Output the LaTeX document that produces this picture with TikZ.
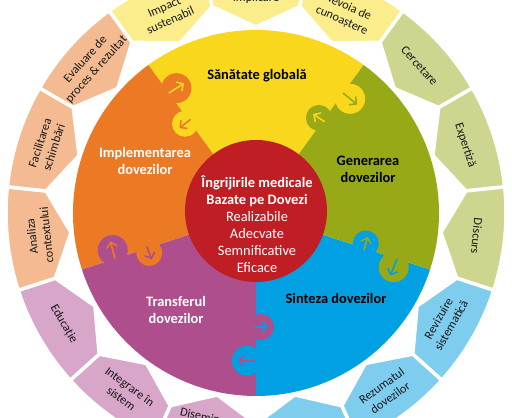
\documentclass[tikz,border=0pt]{standalone}
\usepackage{fontspec}
\setmainfont{Carlito}
\usetikzlibrary{arrows.meta}

\definecolor{sanYel}{RGB}{249,215,28}
\definecolor{sanYelL}{RGB}{251,236,140}
\definecolor{genOlv}{RGB}{151,169,23}
\definecolor{genOlvL}{RGB}{205,213,143}
\definecolor{sinBlu}{RGB}{0,160,226}
\definecolor{sinBluL}{RGB}{126,205,239}
\definecolor{traPur}{RGB}{174,78,141}
\definecolor{traPurL}{RGB}{216,166,200}
\definecolor{impOra}{RGB}{236,121,36}
\definecolor{impOraL}{RGB}{244,187,146}
\definecolor{ebmRed}{RGB}{190,30,36}

\tikzset{
  ringseg/.style={draw=white,line width=2pt,line join=round},
  ringtext/.style={font=\fontsize{7}{8.3}\selectfont,align=center,inner sep=0pt,text=black!90},
  piecetext/.style={font=\bfseries\fontsize{8.2}{9.6}\selectfont,align=center,inner sep=0pt},
  ebmtext/.style={font=\fontsize{8.2}{9.75}\selectfont,align=center,inner sep=0pt,text=white},
  knobarrow/.style={line width=0.9pt,-{Straight Barb[length=2.8pt,width=6pt]}}
}

\begin{document}
\begin{tikzpicture}[x=0.02cm,y=0.02cm]
\useasboundingbox (-256,-205) rectangle (256,213);
\clip (-256,-205) rectangle (256,213);
% outer ring
\filldraw[ringseg,fill=sanYelL] (126:250) arc[start angle=126,end angle=102,radius=250] -- (102:211) -- (114:186) -- (126:211) -- cycle; % Ring.impact
\filldraw[ringseg,fill=sanYelL] (102:250) arc[start angle=102,end angle=78,radius=250] -- (78:211) -- (90:186) -- (102:211) -- cycle; % Ring.implicare
\filldraw[ringseg,fill=sanYelL] (78:250) arc[start angle=78,end angle=54,radius=250] -- (54:211) -- (66:186) -- (78:211) -- cycle; % Ring.nevoia
\filldraw[ringseg,fill=genOlvL] (54:250) arc[start angle=54,end angle=30,radius=250] -- (30:211) -- (42:186) -- (54:211) -- cycle; % Ring.cercetare
\filldraw[ringseg,fill=genOlvL] (30:250) arc[start angle=30,end angle=6,radius=250] -- (6:211) -- (18:186) -- (30:211) -- cycle; % Ring.expertiza
\filldraw[ringseg,fill=genOlvL] (6:250) arc[start angle=6,end angle=-18,radius=250] -- (-18:211) -- (-6:186) -- (6:211) -- cycle; % Ring.discurs
\filldraw[ringseg,fill=sinBluL] (-18:250) arc[start angle=-18,end angle=-42,radius=250] -- (-42:211) -- (-30:186) -- (-18:211) -- cycle; % Ring.revizuire
\filldraw[ringseg,fill=sinBluL] (-42:250) arc[start angle=-42,end angle=-66,radius=250] -- (-66:211) -- (-54:186) -- (-42:211) -- cycle; % Ring.rezumat
\filldraw[ringseg,fill=sinBluL] (-66:250) arc[start angle=-66,end angle=-90,radius=250] -- (-90:211) -- (-78:186) -- (-66:211) -- cycle; % Ring.hidden
\filldraw[ringseg,fill=traPurL] (270:250) arc[start angle=270,end angle=246,radius=250] -- (246:211) -- (258:186) -- (270:211) -- cycle; % Ring.diseminare
\filldraw[ringseg,fill=traPurL] (246:250) arc[start angle=246,end angle=222,radius=250] -- (222:211) -- (234:186) -- (246:211) -- cycle; % Ring.integrare
\filldraw[ringseg,fill=traPurL] (222:250) arc[start angle=222,end angle=198,radius=250] -- (198:211) -- (210:186) -- (222:211) -- cycle; % Ring.educatie
\filldraw[ringseg,fill=impOraL] (198:250) arc[start angle=198,end angle=174,radius=250] -- (174:211) -- (186:186) -- (198:211) -- cycle; % Ring.analiza
\filldraw[ringseg,fill=impOraL] (174:250) arc[start angle=174,end angle=150,radius=250] -- (150:211) -- (162:186) -- (174:211) -- cycle; % Ring.facilitare
\filldraw[ringseg,fill=impOraL] (150:250) arc[start angle=150,end angle=126,radius=250] -- (126:211) -- (138:186) -- (150:211) -- cycle; % Ring.evaluare
\node[ringtext,rotate=24] (impact) at (114:218) {Impact\\sustenabil};
\node[ringtext] (implicare) at (90:215) {Implicare};
\node[ringtext,rotate=-24] (nevoia) at (66:218) {Nevoia de\\cunoaștere};
\node[ringtext,rotate=-48] (cercetare) at (42:220) {Cercetare};
\node[ringtext,rotate=-72] (expertiza) at (18:220) {Expertiză};
\node[ringtext,rotate=-96] (discurs) at (-6:222) {Discurs};
\node[ringtext,rotate=60] (revizuire) at (-30:218) {Revizuire\\sistematică};
\node[ringtext,rotate=36] (rezumat) at (-54:221) {Rezumatul\\dovezilor};
\node[ringtext,rotate=-12] (diseminare) at (256.8:210) {Diseminare};
\node[ringtext,rotate=-36] (integrare) at (234:222) {Integrare în\\sistem};
\node[ringtext,rotate=-60] (educatie) at (210:222) {Educație};
\node[ringtext,rotate=96] (analiza) at (186:218) {Analiza\\contextului};
\node[ringtext,rotate=72] (facilitare) at (162:220) {Facilitarea\\schimbări};
\node[ringtext,rotate=48] (evaluare) at (138:222) {Evaluare de\\proces \& rezultat};
% puzzle pieces
\fill[sanYel] (0,0) -- (54:183) arc[start angle=54,end angle=126,radius=183] -- cycle; % Piece.sanatate
\fill[impOra] (0,0) -- (126:183) arc[start angle=126,end angle=198,radius=183] -- cycle; % Piece.implementare
\fill[traPur] (0,0) -- (198:183) arc[start angle=198,end angle=270,radius=183] -- cycle; % Piece.transfer
\fill[sinBlu] (0,0) -- (270:183) arc[start angle=270,end angle=342,radius=183] -- cycle; % Piece.sinteza
\fill[genOlv] (0,0) -- (-18:183) arc[start angle=-18,end angle=54,radius=183] -- cycle; % Piece.generare
% knobs
\fill[impOra] (122.5:148) circle (15); % Knob.implementare
\draw[knobarrow,sanYel,shift={(122.5:148)}] (212.5:9) -- (32.5:9);
\fill[sanYel] (128.5:114) circle (13); % Knob.sanatate
\draw[knobarrow,impOra,shift={(128.5:114)}] (38.5:7) -- (218.5:7);
\fill[sanYel] (50.5:148) circle (15); % Knob.sanatate
\draw[knobarrow,genOlv,shift={(50.5:148)}] (140.5:9) -- (-39.5:9);
\fill[genOlv] (56.5:114) circle (13); % Knob.generare
\draw[knobarrow,sanYel,shift={(56.5:114)}] (-33.5:7) -- (146.5:7);
\fill[genOlv] (-21.5:148) circle (15); % Knob.generare
\draw[knobarrow,sinBlu,shift={(-21.5:148)}] (68.5:9) -- (-111.5:9);
\fill[sinBlu] (-15.5:114) circle (13); % Knob.sinteza
\draw[knobarrow,genOlv,shift={(-15.5:114)}] (-105.5:7) -- (74.5:7);
\fill[sinBlu] (-93.5:148) circle (15); % Knob.sinteza
\draw[knobarrow,traPur,shift={(-93.5:148)}] (-3.5:9) -- (176.5:9);
\fill[traPur] (-87.5:114) circle (13); % Knob.transfer
\draw[knobarrow,sinBlu,shift={(-87.5:114)}] (-177.5:7) -- (2.5:7);
\fill[traPur] (194.5:148) circle (15); % Knob.transfer
\draw[knobarrow,impOra,shift={(194.5:148)}] (284.5:9) -- (104.5:9);
\fill[impOra] (200.5:114) circle (13); % Knob.implementare
\draw[knobarrow,traPur,shift={(200.5:114)}] (110.5:7) -- (290.5:7);
\node[piecetext] (sanatate) at (1,137) {Sănătate globală};
\node[piecetext,text=white] (implementare) at (-111,52) {Implementarea\\dovezilor};
\node[piecetext] (generare) at (112,44) {Generarea\\dovezilor};
\node[piecetext] (sinteza) at (80,-86) {Sinteza dovezilor};
\node[piecetext,text=white] (transfer) at (-80,-97) {Transferul\\dovezilor};
% centre
\fill[ebmRed] (0,2) circle (71); % Centre.ebm
\node[ebmtext] (ebm) at (1,-11) {\textbf{Îngrijirile medicale}\\\textbf{Bazate pe Dovezi}\\Realizabile\\Adecvate\\Semnificative\\Eficace};
\end{tikzpicture}
\end{document}
